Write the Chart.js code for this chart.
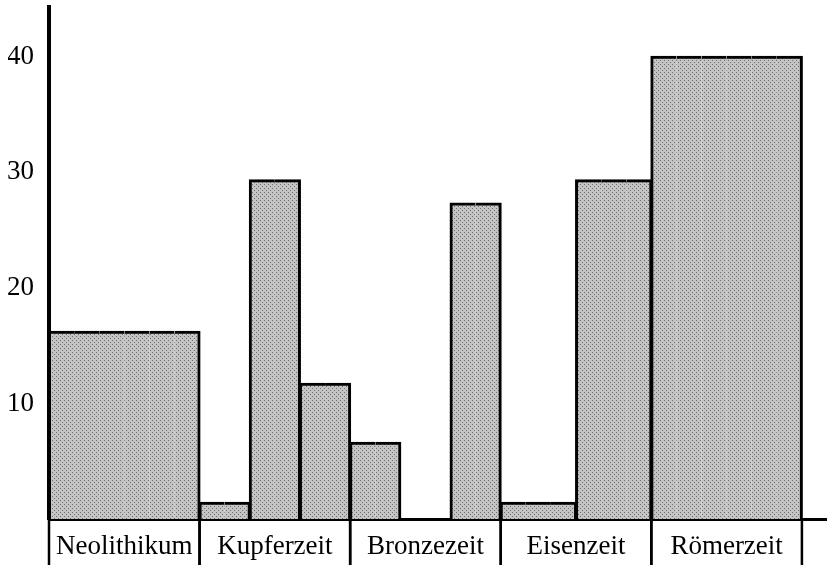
<!DOCTYPE html>
<html>
<head>
<meta charset="utf-8">
<script src="https://cdn.jsdelivr.net/npm/chart.js@4.4.0/dist/chart.umd.min.js"></script>
<style>
  html, body { margin: 0; padding: 0; background: #fff; }
</style>
</head>
<body>
<canvas id="chart" width="827" height="565"></canvas>
<script>
const periods = ['Neolithikum', 'Kupferzeit', 'Bronzezeit', 'Eisenzeit', 'Römerzeit'];
// bars inside each period, left to right
const periodValues = [
  [16.2],
  [1.4, 29.3, 11.7],
  [6.6, 0, 27.3],
  [1.4, 29.3],
  [40]
];
const yTicks = [10, 20, 30, 40];

const SLOTS_PER_PERIOD = 6;
const FONT = '"Liberation Serif", "Times New Roman", serif';
const EDGE = 3;

// every period gets the same number of slots, shared out between its bars
const slotValues = [];
const barStart = [];
const barEnd = [];
periodValues.forEach(bars => {
  const span = SLOTS_PER_PERIOD / bars.length;
  bars.forEach(v => {
    for (let k = 0; k < span; k++) {
      slotValues.push(v);
      barStart.push(k === 0);
      barEnd.push(k === span - 1);
    }
  });
});
// one empty slot so the baseline runs on past the last bar
slotValues.push(null);
barStart.push(false);
barEnd.push(false);

const canvas = document.getElementById('chart');
const ctx = canvas.getContext('2d');

function halftone() {
  const c = document.createElement('canvas');
  c.width = 4;
  c.height = 4;
  const g = c.getContext('2d');
  g.fillStyle = '#c4c4c4';
  g.fillRect(0, 0, 4, 4);
  g.fillStyle = '#6e6e6e';
  g.fillRect(0, 0, 1, 1);
  g.fillRect(2, 2, 1, 1);
  return ctx.createPattern(c, 'repeat');
}

// boxed period names under the baseline
const periodRow = {
  id: 'periodRow',
  afterDraw(chart) {
    const { ctx, chartArea, scales: { x } } = chart;
    const slot = x.getPixelForValue(1) - x.getPixelForValue(0);
    const edge = i => x.getPixelForValue(i) - slot / 2;
    const top = chartArea.bottom;
    ctx.save();
    ctx.strokeStyle = '#000';
    ctx.lineWidth = 2.5;
    ctx.fillStyle = '#000';
    ctx.font = '27px ' + FONT;
    ctx.textAlign = 'center';
    ctx.textBaseline = 'alphabetic';
    periods.forEach((name, p) => {
      const l = edge(p * SLOTS_PER_PERIOD);
      const r = edge((p + 1) * SLOTS_PER_PERIOD);
      ctx.beginPath();
      ctx.moveTo(l, top);
      ctx.lineTo(l, chart.height);
      ctx.moveTo(r, top);
      ctx.lineTo(r, chart.height);
      ctx.stroke();
      ctx.fillText(name, (l + r) / 2, top + 35);
    });
    ctx.restore();
  }
};

new Chart(ctx, {
  type: 'bar',
  data: {
    labels: slotValues.map((_, i) => String(i)),
    datasets: [{
      data: slotValues,
      backgroundColor: halftone(),
      borderColor: '#000',
      borderSkipped: false,
      borderWidth: c => ({
        top: EDGE,
        bottom: 0,
        left: barStart[c.dataIndex] ? EDGE : 0,
        right: barEnd[c.dataIndex] ? EDGE : 0
      }),
      inflateAmount: 1,
      barPercentage: 1,
      categoryPercentage: 1
    }]
  },
  options: {
    responsive: false,
    animation: false,
    layout: { autoPadding: false, padding: { top: 7, left: 8, right: 0, bottom: 46 } },
    plugins: {
      legend: { display: false },
      tooltip: { enabled: false }
    },
    scales: {
      x: {
        z: 1,
        grid: { display: false, drawTicks: false },
        ticks: { display: false },
        border: { color: '#000', width: 3 }
      },
      y: {
        z: 1,
        min: 0,
        max: 44.3,
        afterBuildTicks: scale => {
          scale.ticks = yTicks.map(v => ({ value: v }));
        },
        afterFit: scale => {
          scale.width = 41;
          scale.paddingTop = 0;
          scale.paddingBottom = 0;
        },
        grid: { display: false, drawTicks: false },
        border: { color: '#000', width: 4 },
        ticks: {
          color: '#000',
          padding: 15,
          font: { family: FONT, size: 27 }
        }
      }
    }
  },
  plugins: [periodRow]
});
</script>
</body>
</html>
